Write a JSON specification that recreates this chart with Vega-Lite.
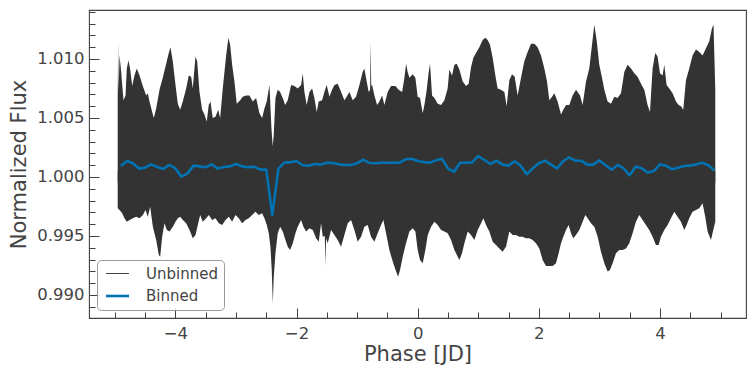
{
  "$schema": "https://vega.github.io/schema/vega-lite/v6.json",
  "width": 657,
  "height": 308,
  "autosize": {"type": "none"},
  "padding": {"left": 89, "top": 10, "right": 10, "bottom": 58},
  "background": "white",
  "config": {
    "font": "DejaVu Sans",
    "view": {"stroke": "#404040", "strokeWidth": 1.1},
    "axis": {"grid": false, "domain": false, "tickColor": "#404040", "tickWidth": 1, "labelColor": "#444444", "titleColor": "#444444", "titleFontWeight": "normal", "labelFont": "DejaVu Sans", "titleFont": "DejaVu Sans"}
  },
  "datasets": {
    "upper": [
      {"phase": -4.952, "flux": 1.0069}, {"phase": -4.945, "flux": 1.0115}, {"phase": -4.938, "flux": 1.0072},
      {"phase": -4.922, "flux": 1.0103}, {"phase": -4.894, "flux": 1.0089}, {"phase": -4.878, "flux": 1.0078},
      {"phase": -4.856, "flux": 1.0065}, {"phase": -4.823, "flux": 1.0069}, {"phase": -4.802, "flux": 1.0092},
      {"phase": -4.774, "flux": 1.0099}, {"phase": -4.746, "flux": 1.0091}, {"phase": -4.713, "flux": 1.0077},
      {"phase": -4.675, "flux": 1.0086}, {"phase": -4.637, "flux": 1.0092}, {"phase": -4.592, "flux": 1.0086},
      {"phase": -4.538, "flux": 1.0077}, {"phase": -4.482, "flux": 1.0069}, {"phase": -4.455, "flux": 1.0071},
      {"phase": -4.427, "flux": 1.0064}, {"phase": -4.383, "flux": 1.0055}, {"phase": -4.356, "flux": 1.005},
      {"phase": -4.317, "flux": 1.0058}, {"phase": -4.262, "flux": 1.0074}, {"phase": -4.208, "flux": 1.0084},
      {"phase": -4.152, "flux": 1.0096}, {"phase": -4.109, "flux": 1.0105}, {"phase": -4.081, "flux": 1.011},
      {"phase": -4.043, "flux": 1.0098}, {"phase": -3.998, "flux": 1.0078}, {"phase": -3.96, "flux": 1.0062},
      {"phase": -3.921, "flux": 1.0057}, {"phase": -3.878, "flux": 1.0064}, {"phase": -3.822, "flux": 1.0075},
      {"phase": -3.779, "flux": 1.0086}, {"phase": -3.739, "flux": 1.0085}, {"phase": -3.713, "flux": 1.0075},
      {"phase": -3.668, "flux": 1.0102}, {"phase": -3.64, "flux": 1.0098}, {"phase": -3.602, "flux": 1.0072},
      {"phase": -3.558, "flux": 1.0057}, {"phase": -3.52, "flux": 1.0053}, {"phase": -3.482, "flux": 1.0047},
      {"phase": -3.449, "flux": 1.0061}, {"phase": -3.421, "flux": 1.0064}, {"phase": -3.383, "flux": 1.005},
      {"phase": -3.338, "flux": 1.0051}, {"phase": -3.294, "flux": 1.0057}, {"phase": -3.261, "flux": 1.005},
      {"phase": -3.218, "flux": 1.0075}, {"phase": -3.162, "flux": 1.0103}, {"phase": -3.124, "flux": 1.0118},
      {"phase": -3.096, "flux": 1.0112}, {"phase": -3.063, "flux": 1.0095}, {"phase": -3.025, "flux": 1.0081},
      {"phase": -2.987, "flux": 1.0062}, {"phase": -2.931, "flux": 1.0065}, {"phase": -2.888, "flux": 1.0068},
      {"phase": -2.832, "flux": 1.0069}, {"phase": -2.777, "flux": 1.0069}, {"phase": -2.723, "flux": 1.0064},
      {"phase": -2.667, "flux": 1.0067}, {"phase": -2.612, "flux": 1.0054}, {"phase": -2.568, "flux": 1.005},
      {"phase": -2.53, "flux": 1.0058}, {"phase": -2.492, "flux": 1.0064}, {"phase": -2.447, "flux": 1.0078},
      {"phase": -2.414, "flux": 1.0041}, {"phase": -2.393, "flux": 1.0026}, {"phase": -2.376, "flux": 1.0036},
      {"phase": -2.348, "flux": 1.0067}, {"phase": -2.31, "flux": 1.0074}, {"phase": -2.271, "flux": 1.0072},
      {"phase": -2.228, "flux": 1.0067}, {"phase": -2.188, "flux": 1.0061}, {"phase": -2.145, "flux": 1.0065},
      {"phase": -2.089, "flux": 1.0078}, {"phase": -2.035, "flux": 1.0077}, {"phase": -1.98, "flux": 1.0075},
      {"phase": -1.924, "flux": 1.0078}, {"phase": -1.898, "flux": 1.0088}, {"phase": -1.87, "flux": 1.0072},
      {"phase": -1.832, "flux": 1.0061}, {"phase": -1.787, "flux": 1.0072}, {"phase": -1.743, "flux": 1.0075},
      {"phase": -1.705, "flux": 1.0067}, {"phase": -1.667, "flux": 1.0055}, {"phase": -1.634, "flux": 1.0064},
      {"phase": -1.578, "flux": 1.0065}, {"phase": -1.54, "flux": 1.0072}, {"phase": -1.502, "flux": 1.0078},
      {"phase": -1.457, "flux": 1.0068}, {"phase": -1.413, "flux": 1.0074}, {"phase": -1.375, "flux": 1.0078},
      {"phase": -1.32, "flux": 1.0079}, {"phase": -1.264, "flux": 1.0072}, {"phase": -1.21, "flux": 1.0065},
      {"phase": -1.172, "flux": 1.0068}, {"phase": -1.127, "flux": 1.0072}, {"phase": -1.073, "flux": 1.0065},
      {"phase": -1.017, "flux": 1.0068}, {"phase": -0.962, "flux": 1.0078}, {"phase": -0.908, "flux": 1.0089},
      {"phase": -0.88, "flux": 1.0092}, {"phase": -0.842, "flux": 1.0081}, {"phase": -0.809, "flux": 1.0072},
      {"phase": -0.785, "flux": 1.0074}, {"phase": -0.776, "flux": 1.0115}, {"phase": -0.767, "flux": 1.0077},
      {"phase": -0.752, "flux": 1.0078}, {"phase": -0.715, "flux": 1.0069}, {"phase": -0.67, "flux": 1.0061},
      {"phase": -0.632, "flux": 1.0064}, {"phase": -0.587, "flux": 1.0069}, {"phase": -0.55, "flux": 1.0061},
      {"phase": -0.495, "flux": 1.0072}, {"phase": -0.439, "flux": 1.0077}, {"phase": -0.368, "flux": 1.0077},
      {"phase": -0.314, "flux": 1.0074}, {"phase": -0.257, "flux": 1.0072}, {"phase": -0.219, "flux": 1.0084},
      {"phase": -0.191, "flux": 1.0096}, {"phase": -0.165, "flux": 1.0089},
      {"phase": -0.137, "flux": 1.0084}, {"phase": -0.082, "flux": 1.0087}, {"phase": -0.038, "flux": 1.0084},
      {"phase": 0.0, "flux": 1.0068}, {"phase": 0.039, "flux": 1.0067}, {"phase": 0.083, "flux": 1.0054},
      {"phase": 0.111, "flux": 1.0061}, {"phase": 0.149, "flux": 1.0074}, {"phase": 0.182, "flux": 1.0089},
      {"phase": 0.204, "flux": 1.0096}, {"phase": 0.237, "flux": 1.0069}, {"phase": 0.276, "flux": 1.0067},
      {"phase": 0.33, "flux": 1.0062}, {"phase": 0.386, "flux": 1.0061}, {"phase": 0.441, "flux": 1.0065},
      {"phase": 0.495, "flux": 1.0075}, {"phase": 0.523, "flux": 1.0091}, {"phase": 0.567, "flux": 1.0086},
      {"phase": 0.606, "flux": 1.0095}, {"phase": 0.644, "flux": 1.0096}, {"phase": 0.688, "flux": 1.0091},
      {"phase": 0.743, "flux": 1.0081}, {"phase": 0.798, "flux": 1.0077}, {"phase": 0.842, "flux": 1.0079},
      {"phase": 0.881, "flux": 1.0093}, {"phase": 0.919, "flux": 1.0101}, {"phase": 0.963, "flux": 1.0105},
      {"phase": 1.018, "flux": 1.011}, {"phase": 1.073, "flux": 1.0116}, {"phase": 1.117, "flux": 1.0118},
      {"phase": 1.155, "flux": 1.0116}, {"phase": 1.194, "flux": 1.0112}, {"phase": 1.238, "flux": 1.0101},
      {"phase": 1.282, "flux": 1.0086}, {"phase": 1.32, "flux": 1.0075}, {"phase": 1.376, "flux": 1.0074},
      {"phase": 1.431, "flux": 1.0072}, {"phase": 1.469, "flux": 1.006}, {"phase": 1.513, "flux": 1.0082},
      {"phase": 1.558, "flux": 1.0087}, {"phase": 1.601, "flux": 1.0085}, {"phase": 1.65, "flux": 1.0069},
      {"phase": 1.706, "flux": 1.0084}, {"phase": 1.761, "flux": 1.0098}, {"phase": 1.815, "flux": 1.0106},
      {"phase": 1.871, "flux": 1.0113}, {"phase": 1.926, "flux": 1.0113}, {"phase": 1.98, "flux": 1.011},
      {"phase": 2.036, "flux": 1.0103}, {"phase": 2.091, "flux": 1.0092}, {"phase": 2.135, "flux": 1.0081},
      {"phase": 2.173, "flux": 1.0065}, {"phase": 2.218, "flux": 1.0068}, {"phase": 2.256, "flux": 1.0071},
      {"phase": 2.31, "flux": 1.0064}, {"phase": 2.366, "flux": 1.0053}, {"phase": 2.404, "flux": 1.0057},
      {"phase": 2.449, "flux": 1.0061}, {"phase": 2.503, "flux": 1.0061}, {"phase": 2.558, "flux": 1.0069},
      {"phase": 2.614, "flux": 1.0074}, {"phase": 2.68, "flux": 1.0069}, {"phase": 2.723, "flux": 1.0061},
      {"phase": 2.779, "flux": 1.0081}, {"phase": 2.833, "flux": 1.0092}, {"phase": 2.878, "flux": 1.0112},
      {"phase": 2.916, "flux": 1.0129}, {"phase": 2.954, "flux": 1.0116}, {"phase": 2.998, "flux": 1.0095},
      {"phase": 3.043, "flux": 1.0084}, {"phase": 3.081, "flux": 1.0074}, {"phase": 3.135, "flux": 1.0064},
      {"phase": 3.191, "flux": 1.0062}, {"phase": 3.246, "flux": 1.0068}, {"phase": 3.3, "flux": 1.0067},
      {"phase": 3.356, "flux": 1.0071}, {"phase": 3.411, "flux": 1.0089}, {"phase": 3.465, "flux": 1.0095},
      {"phase": 3.521, "flux": 1.0092}, {"phase": 3.576, "flux": 1.0088}, {"phase": 3.63, "flux": 1.0085},
      {"phase": 3.686, "flux": 1.0079}, {"phase": 3.741, "flux": 1.0074}, {"phase": 3.795, "flux": 1.0061},
      {"phase": 3.835, "flux": 1.0055}, {"phase": 3.878, "flux": 1.0092}, {"phase": 3.922, "flux": 1.0105},
      {"phase": 3.96, "flux": 1.0102}, {"phase": 4.0, "flux": 1.0088}, {"phase": 4.043, "flux": 1.0086},
      {"phase": 4.071, "flux": 1.0095}, {"phase": 4.109, "flux": 1.0078}, {"phase": 4.153, "flux": 1.0075},
      {"phase": 4.208, "flux": 1.0071}, {"phase": 4.264, "flux": 1.0064}, {"phase": 4.307, "flux": 1.0061},
      {"phase": 4.347, "flux": 1.006}, {"phase": 4.384, "flux": 1.0057}, {"phase": 4.429, "flux": 1.0082},
      {"phase": 4.483, "flux": 1.0092}, {"phase": 4.538, "flux": 1.0103}, {"phase": 4.594, "flux": 1.0108},
      {"phase": 4.649, "flux": 1.0106}, {"phase": 4.703, "flux": 1.0103}, {"phase": 4.759, "flux": 1.0109},
      {"phase": 4.814, "flux": 1.0115}, {"phase": 4.858, "flux": 1.0126}, {"phase": 4.884, "flux": 1.0129},
      {"phase": 4.913, "flux": 1.0074}
    ],
    "lower": [
      {"phase": -4.952, "flux": 0.99735}, {"phase": -4.922, "flux": 0.9972}, {"phase": -4.878, "flux": 0.99692},
      {"phase": -4.84, "flux": 0.9965}, {"phase": -4.802, "flux": 0.99621}, {"phase": -4.757, "flux": 0.99636},
      {"phase": -4.702, "flux": 0.9965}, {"phase": -4.647, "flux": 0.99664}, {"phase": -4.592, "flux": 0.9965},
      {"phase": -4.537, "flux": 0.99678}, {"phase": -4.493, "flux": 0.9972}, {"phase": -4.455, "flux": 0.99664},
      {"phase": -4.416, "flux": 0.99748}, {"phase": -4.372, "flux": 0.99579}, {"phase": -4.317, "flux": 0.99466},
      {"phase": -4.273, "flux": 0.99339}, {"phase": -4.251, "flux": 0.99325}, {"phase": -4.218, "flux": 0.99494},
      {"phase": -4.18, "flux": 0.99608}, {"phase": -4.141, "flux": 0.99551}, {"phase": -4.097, "flux": 0.99537},
      {"phase": -4.042, "flux": 0.99579}, {"phase": -3.998, "flux": 0.99621}, {"phase": -3.96, "flux": 0.9965},
      {"phase": -3.921, "flux": 0.99664}, {"phase": -3.877, "flux": 0.99636}, {"phase": -3.822, "flux": 0.99608},
      {"phase": -3.767, "flux": 0.99551}, {"phase": -3.712, "flux": 0.9948}, {"phase": -3.668, "flux": 0.99508},
      {"phase": -3.63, "flux": 0.99593}, {"phase": -3.591, "flux": 0.99678}, {"phase": -3.547, "flux": 0.99621},
      {"phase": -3.492, "flux": 0.9965}, {"phase": -3.448, "flux": 0.99678}, {"phase": -3.393, "flux": 0.99636},
      {"phase": -3.338, "flux": 0.9965}, {"phase": -3.283, "flux": 0.99608}, {"phase": -3.228, "flux": 0.99593},
      {"phase": -3.173, "flux": 0.99636}, {"phase": -3.118, "flux": 0.99664}, {"phase": -3.063, "flux": 0.99621},
      {"phase": -3.008, "flux": 0.99678}, {"phase": -2.953, "flux": 0.9965}, {"phase": -2.898, "flux": 0.99608},
      {"phase": -2.843, "flux": 0.99636}, {"phase": -2.788, "flux": 0.9965}, {"phase": -2.733, "flux": 0.99678},
      {"phase": -2.678, "flux": 0.99706}, {"phase": -2.623, "flux": 0.99678}, {"phase": -2.568, "flux": 0.99692},
      {"phase": -2.53, "flux": 0.9965}, {"phase": -2.491, "flux": 0.99593}, {"phase": -2.458, "flux": 0.99523},
      {"phase": -2.431, "flux": 0.99409}, {"phase": -2.409, "flux": 0.99212}, {"phase": -2.392, "flux": 0.9893},
      {"phase": -2.376, "flux": 0.99155}, {"phase": -2.348, "flux": 0.99353}, {"phase": -2.31, "flux": 0.99523},
      {"phase": -2.271, "flux": 0.99579}, {"phase": -2.227, "flux": 0.99537}, {"phase": -2.183, "flux": 0.99466},
      {"phase": -2.145, "flux": 0.99409}, {"phase": -2.106, "flux": 0.99381}, {"phase": -2.062, "flux": 0.99438},
      {"phase": -2.018, "flux": 0.99523}, {"phase": -1.98, "flux": 0.99579}, {"phase": -1.925, "flux": 0.99636},
      {"phase": -1.886, "flux": 0.99579}, {"phase": -1.842, "flux": 0.99537}, {"phase": -1.787, "flux": 0.99565},
      {"phase": -1.732, "flux": 0.99551}, {"phase": -1.677, "flux": 0.9948}, {"phase": -1.633, "flux": 0.99452},
      {"phase": -1.595, "flux": 0.99608}, {"phase": -1.567, "flux": 0.99494}, {"phase": -1.533, "flux": 0.995},
      {"phase": -1.523, "flux": 0.9924}, {"phase": -1.513, "flux": 0.9948}, {"phase": -1.485, "flux": 0.99438},
      {"phase": -1.43, "flux": 0.99551}, {"phase": -1.375, "flux": 0.99508}, {"phase": -1.32, "flux": 0.99466},
      {"phase": -1.265, "flux": 0.99409}, {"phase": -1.21, "flux": 0.99508}, {"phase": -1.155, "flux": 0.99608},
      {"phase": -1.1, "flux": 0.99636}, {"phase": -1.045, "flux": 0.99551}, {"phase": -0.99, "flux": 0.99452},
      {"phase": -0.935, "flux": 0.99494}, {"phase": -0.88, "flux": 0.99579}, {"phase": -0.825, "flux": 0.99593},
      {"phase": -0.77, "flux": 0.99494}, {"phase": -0.715, "flux": 0.99452}, {"phase": -0.66, "flux": 0.99523},
      {"phase": -0.605, "flux": 0.99593}, {"phase": -0.566, "flux": 0.99636}, {"phase": -0.522, "flux": 0.99523},
      {"phase": -0.467, "flux": 0.99381}, {"phase": -0.412, "flux": 0.99283}, {"phase": -0.357, "flux": 0.99198},
      {"phase": -0.324, "flux": 0.99155}, {"phase": -0.291, "flux": 0.99212}, {"phase": -0.247, "flux": 0.99325},
      {"phase": -0.192, "flux": 0.99438},
      {"phase": -0.137, "flux": 0.99537}, {"phase": -0.082, "flux": 0.99565}, {"phase": -0.038, "flux": 0.99537},
      {"phase": 0.0, "flux": 0.99381}, {"phase": 0.039, "flux": 0.99297}, {"phase": 0.083, "flux": 0.99269},
      {"phase": 0.127, "flux": 0.99381}, {"phase": 0.166, "flux": 0.99508}, {"phase": 0.221, "flux": 0.99579},
      {"phase": 0.276, "flux": 0.99621}, {"phase": 0.331, "flux": 0.99593}, {"phase": 0.386, "flux": 0.99551},
      {"phase": 0.441, "flux": 0.99537}, {"phase": 0.496, "flux": 0.99523}, {"phase": 0.551, "flux": 0.99466},
      {"phase": 0.606, "flux": 0.99381}, {"phase": 0.661, "flux": 0.99325}, {"phase": 0.688, "flux": 0.99297},
      {"phase": 0.732, "flux": 0.99353}, {"phase": 0.771, "flux": 0.99438}, {"phase": 0.826, "flux": 0.99537},
      {"phase": 0.881, "flux": 0.99508}, {"phase": 0.936, "flux": 0.99466}, {"phase": 0.991, "flux": 0.99551},
      {"phase": 1.046, "flux": 0.99608}, {"phase": 1.084, "flux": 0.9965}, {"phase": 1.128, "flux": 0.99593},
      {"phase": 1.183, "flux": 0.99537}, {"phase": 1.238, "flux": 0.99452}, {"phase": 1.293, "flux": 0.99424},
      {"phase": 1.348, "flux": 0.99395}, {"phase": 1.403, "flux": 0.99367}, {"phase": 1.458, "flux": 0.99409},
      {"phase": 1.513, "flux": 0.99537}, {"phase": 1.568, "flux": 0.99508}, {"phase": 1.623, "flux": 0.99508},
      {"phase": 1.678, "flux": 0.99494}, {"phase": 1.733, "flux": 0.99494}, {"phase": 1.788, "flux": 0.9948},
      {"phase": 1.843, "flux": 0.9948}, {"phase": 1.898, "flux": 0.99466}, {"phase": 1.953, "flux": 0.99438},
      {"phase": 2.008, "flux": 0.99395}, {"phase": 2.063, "flux": 0.99297}, {"phase": 2.118, "flux": 0.99246},
      {"phase": 2.173, "flux": 0.99246}, {"phase": 2.228, "flux": 0.99246}, {"phase": 2.283, "flux": 0.99269},
      {"phase": 2.327, "flux": 0.99353}, {"phase": 2.366, "flux": 0.99438}, {"phase": 2.404, "flux": 0.99494},
      {"phase": 2.448, "flux": 0.99551}, {"phase": 2.492, "flux": 0.99593}, {"phase": 2.531, "flux": 0.99523},
      {"phase": 2.569, "flux": 0.9948}, {"phase": 2.613, "flux": 0.99508}, {"phase": 2.668, "flux": 0.99551},
      {"phase": 2.723, "flux": 0.99621}, {"phase": 2.767, "flux": 0.99678}, {"phase": 2.806, "flux": 0.9965},
      {"phase": 2.861, "flux": 0.99608}, {"phase": 2.916, "flux": 0.99579}, {"phase": 2.971, "flux": 0.99494},
      {"phase": 3.026, "flux": 0.99367}, {"phase": 3.081, "flux": 0.99269}, {"phase": 3.136, "flux": 0.99198},
      {"phase": 3.174, "flux": 0.99212}, {"phase": 3.218, "flux": 0.99269}, {"phase": 3.273, "flux": 0.99353},
      {"phase": 3.328, "flux": 0.99381}, {"phase": 3.383, "flux": 0.99381}, {"phase": 3.438, "flux": 0.99395},
      {"phase": 3.493, "flux": 0.99438}, {"phase": 3.548, "flux": 0.99523}, {"phase": 3.603, "flux": 0.99621},
      {"phase": 3.658, "flux": 0.99678}, {"phase": 3.713, "flux": 0.99636}, {"phase": 3.768, "flux": 0.99593},
      {"phase": 3.823, "flux": 0.99551}, {"phase": 3.878, "flux": 0.99494}, {"phase": 3.933, "flux": 0.99424},
      {"phase": 3.977, "flux": 0.99424}, {"phase": 4.016, "flux": 0.99494}, {"phase": 4.071, "flux": 0.99551},
      {"phase": 4.126, "flux": 0.99593}, {"phase": 4.181, "flux": 0.9965}, {"phase": 4.236, "flux": 0.99706},
      {"phase": 4.291, "flux": 0.99664}, {"phase": 4.346, "flux": 0.99621}, {"phase": 4.401, "flux": 0.99551},
      {"phase": 4.44, "flux": 0.99593}, {"phase": 4.483, "flux": 0.9965}, {"phase": 4.538, "flux": 0.99706},
      {"phase": 4.593, "flux": 0.9972}, {"phase": 4.648, "flux": 0.99735}, {"phase": 4.703, "flux": 0.99777},
      {"phase": 4.747, "flux": 0.99664}, {"phase": 4.786, "flux": 0.99537}, {"phase": 4.841, "flux": 0.99466},
      {"phase": 4.88, "flux": 0.99551}, {"phase": 4.913, "flux": 0.99621}
    ],
    "binned": [
      {"phase": -4.9, "flux": 1.00093}, {"phase": -4.8, "flux": 1.00136}, {"phase": -4.7, "flux": 1.00116},
      {"phase": -4.6, "flux": 1.00071}, {"phase": -4.5, "flux": 1.00079}, {"phase": -4.4, "flux": 1.00107},
      {"phase": -4.3, "flux": 1.00085}, {"phase": -4.2, "flux": 1.00068}, {"phase": -4.1, "flux": 1.00102},
      {"phase": -4.0, "flux": 1.00073}, {"phase": -3.9, "flux": 1.00003}, {"phase": -3.8, "flux": 1.00031},
      {"phase": -3.7, "flux": 1.00096}, {"phase": -3.6, "flux": 1.0009}, {"phase": -3.5, "flux": 1.00082},
      {"phase": -3.4, "flux": 1.00107}, {"phase": -3.3, "flux": 1.00071}, {"phase": -3.2, "flux": 1.00085},
      {"phase": -3.1, "flux": 1.0009}, {"phase": -3.0, "flux": 1.0011}, {"phase": -2.9, "flux": 1.0009},
      {"phase": -2.8, "flux": 1.00082}, {"phase": -2.7, "flux": 1.00088}, {"phase": -2.6, "flux": 1.00062},
      {"phase": -2.5, "flux": 1.00062}, {"phase": -2.4, "flux": 0.99678}, {"phase": -2.3, "flux": 1.00068},
      {"phase": -2.2, "flux": 1.00124}, {"phase": -2.1, "flux": 1.00124}, {"phase": -2.0, "flux": 1.00136},
      {"phase": -1.9, "flux": 1.00099}, {"phase": -1.8, "flux": 1.00096}, {"phase": -1.7, "flux": 1.0011},
      {"phase": -1.6, "flux": 1.00105}, {"phase": -1.5, "flux": 1.00121}, {"phase": -1.4, "flux": 1.00119},
      {"phase": -1.3, "flux": 1.00107}, {"phase": -1.2, "flux": 1.00102}, {"phase": -1.1, "flux": 1.00102},
      {"phase": -1.0, "flux": 1.00116}, {"phase": -0.9, "flux": 1.00147}, {"phase": -0.8, "flux": 1.00119},
      {"phase": -0.7, "flux": 1.00116}, {"phase": -0.6, "flux": 1.00121}, {"phase": -0.5, "flux": 1.00121},
      {"phase": -0.4, "flux": 1.00121}, {"phase": -0.3, "flux": 1.00121}, {"phase": -0.2, "flux": 1.0015},
      {"phase": -0.1, "flux": 1.00155}, {"phase": 0.0, "flux": 1.00136}, {"phase": 0.1, "flux": 1.00127},
      {"phase": 0.2, "flux": 1.00121}, {"phase": 0.3, "flux": 1.00141}, {"phase": 0.4, "flux": 1.00155},
      {"phase": 0.5, "flux": 1.00071}, {"phase": 0.6, "flux": 1.00045}, {"phase": 0.7, "flux": 1.00121},
      {"phase": 0.8, "flux": 1.00121}, {"phase": 0.9, "flux": 1.00124}, {"phase": 1.0, "flux": 1.00178},
      {"phase": 1.1, "flux": 1.00144}, {"phase": 1.2, "flux": 1.0011}, {"phase": 1.3, "flux": 1.00138},
      {"phase": 1.4, "flux": 1.00105}, {"phase": 1.5, "flux": 1.00096}, {"phase": 1.6, "flux": 1.00133},
      {"phase": 1.7, "flux": 1.00096}, {"phase": 1.8, "flux": 1.00023}, {"phase": 1.9, "flux": 1.00073},
      {"phase": 2.0, "flux": 1.00116}, {"phase": 2.1, "flux": 1.00138}, {"phase": 2.2, "flux": 1.00105},
      {"phase": 2.3, "flux": 1.00073}, {"phase": 2.4, "flux": 1.00133}, {"phase": 2.5, "flux": 1.00167},
      {"phase": 2.6, "flux": 1.00138}, {"phase": 2.7, "flux": 1.00138}, {"phase": 2.8, "flux": 1.00105},
      {"phase": 2.9, "flux": 1.00105}, {"phase": 3.0, "flux": 1.00141}, {"phase": 3.1, "flux": 1.00102},
      {"phase": 3.2, "flux": 1.00062}, {"phase": 3.3, "flux": 1.00102}, {"phase": 3.4, "flux": 1.00073},
      {"phase": 3.5, "flux": 1.00014}, {"phase": 3.6, "flux": 1.00088}, {"phase": 3.7, "flux": 1.00073},
      {"phase": 3.8, "flux": 1.00037}, {"phase": 3.9, "flux": 1.00051}, {"phase": 4.0, "flux": 1.00107},
      {"phase": 4.1, "flux": 1.00096}, {"phase": 4.2, "flux": 1.00065}, {"phase": 4.3, "flux": 1.00079},
      {"phase": 4.4, "flux": 1.00093}, {"phase": 4.5, "flux": 1.00096}, {"phase": 4.6, "flux": 1.00107},
      {"phase": 4.7, "flux": 1.00121}, {"phase": 4.8, "flux": 1.00099}, {"phase": 4.9, "flux": 1.00054}
    ]
  },
  "layer": [
    {
      "data": {"name": "upper"},
      "mark": {"type": "area", "color": "#333333"},
      "encoding": {
        "x": {"field": "phase", "type": "quantitative", "scale": {"domain": [-5.426, 5.42], "nice": false, "zero": false},
          "axis": {"orient": "bottom", "values": [-4, -2, 0, 2, 4], "format": "d", "tickSize": -10, "labelFontSize": 16.5, "labelPadding": 17, "title": "Phase [JD]", "titleFontSize": 21, "titleX": 328.5, "titleY": 42, "titleBaseline": "alphabetic", "titleAlign": "center"}},
        "y": {"field": "flux", "type": "quantitative", "scale": {"domain": [0.98805, 1.01415], "nice": false, "zero": false},
          "axis": {"orient": "left", "values": [0.99, 0.995, 1.0, 1.005, 1.01], "format": ".3f", "tickSize": -10, "labelFontSize": 16.5, "labelPadding": 15, "title": "Normalized Flux", "titleFontSize": 21, "titleX": -63.8, "titleY": 154, "titleAngle": -90, "titleBaseline": "alphabetic", "titleAlign": "center"}},
        "y2": {"datum": 0.9995}
      }
    },
    {
      "data": {"name": "lower"},
      "mark": {"type": "area", "color": "#333333"},
      "encoding": {
        "x": {"field": "phase", "type": "quantitative", "axis": null},
        "y": {"field": "flux", "type": "quantitative", "axis": null},
        "y2": {"datum": 1.0005}
      }
    },
    {
      "data": {"name": "binned"},
      "mark": {"type": "line", "strokeWidth": 2.6, "strokeJoin": "round"},
      "encoding": {
        "x": {"field": "phase", "type": "quantitative",
          "axis": {"orient": "bottom", "values": [-5, -4.5, -3.5, -3, -2.5, -1.5, -1, -0.5, 0.5, 1, 1.5, 2.5, 3, 3.5, 4.5, 5], "labels": false, "tickSize": -6, "title": null}},
        "y": {"field": "flux", "type": "quantitative",
          "axis": {"orient": "left", "values": [0.989, 0.991, 0.992, 0.993, 0.994, 0.996, 0.997, 0.998, 0.999, 1.001, 1.002, 1.003, 1.004, 1.006, 1.007, 1.008, 1.009, 1.011, 1.012, 1.013, 1.014], "labels": false, "tickSize": -6, "title": null}},
        "color": {"datum": "Binned", "type": "nominal",
          "scale": {"domain": ["Unbinned", "Binned"], "range": ["#444444", "#0173b2"]},
          "legend": {"orient": "none", "legendX": 8, "legendY": 250, "title": null, "symbolType": "stroke", "symbolSize": 529, "labelFontSize": 15, "labelColor": "#444444", "labelFont": "DejaVu Sans", "labelOffset": 21, "symbolOffset": 7, "padding": 6, "rowPadding": 6.5, "fillColor": "rgba(255,255,255,0.8)", "strokeColor": "#999999", "cornerRadius": 4,
            "encode": {"symbols": {"update": {"strokeWidth": {"signal": "datum.value === 'Binned' ? 2.6 : 1"}}}}}
        }
      }
    }
  ],
  "resolve": {"axis": {"x": "independent", "y": "independent"}}
}
